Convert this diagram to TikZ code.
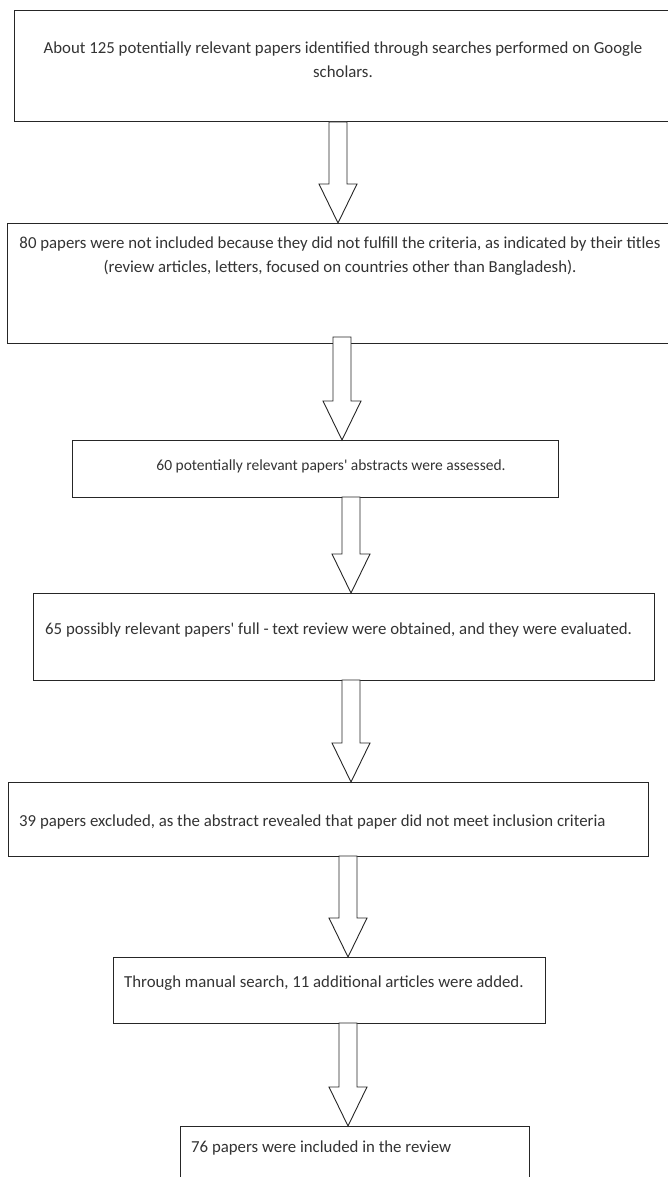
\documentclass[tikz,border=0pt]{standalone}
\usepackage{fontspec}
\setmainfont{Carlito}
\usetikzlibrary{calc}
\tikzset{
  box/.style={draw=black!85, line width=1pt, rectangle, inner sep=0pt, outer sep=0pt},
  txt/.style={inner sep=0pt, font=\fontsize{16.8}{24}\selectfont, text=black!80},
  fatarrow/.style={draw=black!85, line width=0.9pt, fill=white, line join=miter}
}
\begin{document}
\begin{tikzpicture}[x=1pt, y=-1pt]
                \useasboundingbox[fill=white] (0,0) rectangle (667,1177);

                % boxes
                \node[box, minimum width=686, minimum height=111] (b1) at (357,66.5) {}; %box 1
                \node[box, minimum width=693, minimum height=120] (b2) at (353.5,283) {}; %box 2
                \node[box, minimum width=486, minimum height=57] (b3) at (315,468.5) {}; %box 3
                \node[box, minimum width=621, minimum height=87] (b4) at (343.5,636.5) {}; %box 4
                \node[box, minimum width=640, minimum height=74] (b5) at (328,819) {}; %box 5
                \node[box, minimum width=432, minimum height=66] (b6) at (329,990) {}; %box 6
                \node[box, minimum width=349, minimum height=74] (b7) at (354.5,1163) {}; %box 7

                % texts
                \node[txt, align=center] (t1) at (343,59.5) {About 125 potentially relevant papers identified through searches performed on Google\\scholars.};
                \node[txt, align=center] (t2) at (340,256) {80 papers were not included because they did not fulfill the criteria, as indicated by their titles\\(review articles, letters, focused on countries other than Bangladesh).};
                \node[txt, font=\fontsize{15.5}{22}\selectfont] (t3) at (331,466) {60 potentially relevant papers\textquotesingle{} abstracts were assessed.};
                \node[txt, anchor=west] (t4) at (45,630) {65 possibly relevant papers\textquotesingle{} full - text review were obtained, and they were evaluated.};
                \node[txt, anchor=west] (t5) at (19,822) {39 papers excluded, as the abstract revealed that paper did not meet inclusion criteria};
                \node[txt, anchor=west] (t6) at (124,983) {Through manual search, 11 additional articles were added.};
                \node[txt, anchor=west] (t7) at (191,1148) {76 papers were included in the review};

                % hollow arrows: from/to/x/shaft start raised by
                \foreach \from/\to/\ax/\up in {b1/b2/338/0, b2/b3/342/6, b3/b4/351/0, b4/b5/351/0, b5/b6/348/0, b6/b7/348/0}{
                  \coordinate (s) at (\from.south -| \ax,0);
                  \coordinate (e) at (\to.north -| \ax,0);
                  \draw[fatarrow] ($(s)+(-9,-\up)$) -- ($(e)+(-9,-39)$) -- ($(e)+(-19,-39)$) -- (e)
                     -- ($(e)+(19,-39)$) -- ($(e)+(9,-39)$) -- ($(s)+(9,-\up)$) -- cycle;
                }
            \end{tikzpicture}
\end{document}
